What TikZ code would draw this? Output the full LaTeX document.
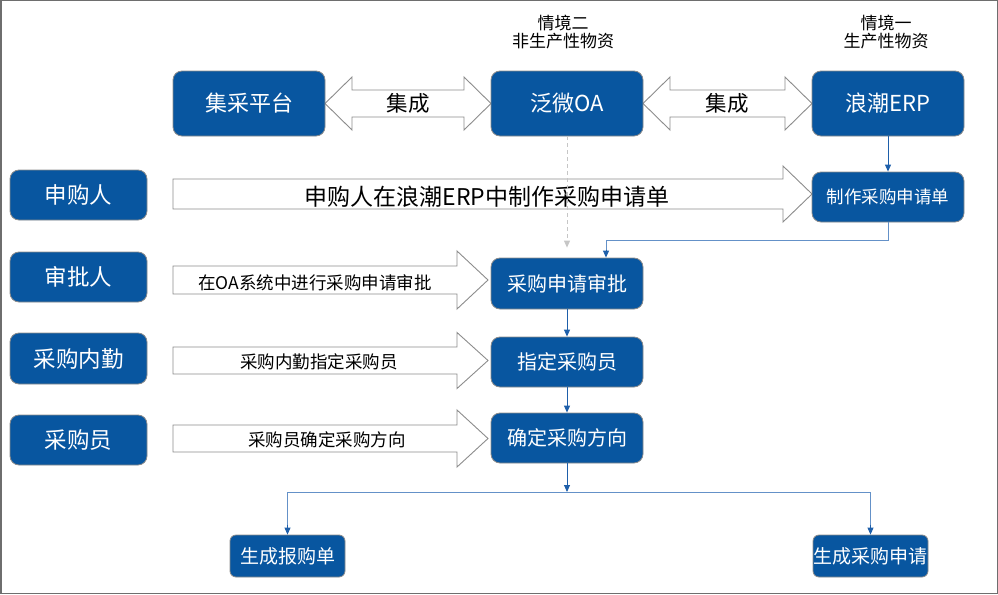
\documentclass[tikz,border=0pt]{standalone}
\usepackage{fontspec}
\setmainfont{Noto Sans CJK SC}
\usetikzlibrary{arrows.meta,calc}
\definecolor{boxblue}{RGB}{8,86,160}
\definecolor{linkblue}{RGB}{30,95,170}
\definecolor{lightlink}{RGB}{100,145,200}
\definecolor{framegray}{RGB}{110,110,110}
\definecolor{outlinegray}{RGB}{140,140,140}
\newcommand\fs[1]{\fontsize{#1}{#1}\selectfont}
% single block arrow: x1 x2 yc halfshaft halfhead headlen
\newcommand\BArrow[6]{%
  \draw[blockshape] (#1,#3-#4) -- (#2-#6,#3-#4) -- (#2-#6,#3-#5) -- (#2,#3)
    -- (#2-#6,#3+#5) -- (#2-#6,#3+#4) -- (#1,#3+#4) -- cycle;}
\newcommand\DArrow[6]{%
  \draw[blockshape] (#1,#3) -- (#1+#6,#3-#5) -- (#1+#6,#3-#4) -- (#2-#6,#3-#4) -- (#2-#6,#3-#5) -- (#2,#3)
    -- (#2-#6,#3+#5) -- (#2-#6,#3+#4) -- (#1+#6,#3+#4) -- (#1+#6,#3+#5) -- cycle;}
\tikzset{
  bluebox/.style={rectangle, rounded corners=9pt, fill=boxblue, draw=outlinegray, line width=0.8pt,
    text=white, inner sep=0pt, align=center},
  blockshape/.style={draw=outlinegray, fill=white, line width=0.9pt, line join=miter},
  conn/.style={draw=linkblue, line width=0.9pt, -{Triangle[length=7pt,width=6pt]}},
  connl/.style={draw=lightlink, line width=0.9pt},
  dashconn/.style={draw=gray!45, line width=0.9pt, dashed, dash pattern=on 4pt off 3pt, -{Triangle[length=7pt,width=6pt,fill=gray!45]}},
  lbl/.style={inner sep=0pt, text=black, align=center},
}
\begin{document}
\begin{tikzpicture}[x=1pt,y=-1pt]
\useasboundingbox (0,0) rectangle (998,594);
\draw[framegray, line width=1.5pt] (0.75,0.75) rectangle (997.25,593.25);

% block arrows
\DArrow{325}{491}{103.5}{13.5}{26.5}{27}
\DArrow{643}{812}{103.5}{13.5}{26.5}{27}
\BArrow{173}{812}{194}{15}{28}{29}
\BArrow{173}{488}{280}{14}{29}{31}
\BArrow{173}{488}{360.5}{13.5}{28}{31}
\BArrow{173}{488}{438.5}{13.5}{28.5}{31}

% top nodes
\node[bluebox, minimum width=152pt, minimum height=65pt, font=\fs{22}] (jc) at (249,103.5) {集采平台};
\node[bluebox, minimum width=152pt, minimum height=65pt, font=\fs{22}] (oa) at (567,103.5) {泛微OA};
\node[bluebox, minimum width=152pt, minimum height=65pt, font=\fs{22}] (erp) at (888,103.5) {浪潮ERP};

\node[lbl, font=\fs{21.5}] (j1) at (408,103) {集成};
\node[lbl, font=\fs{21.5}] (j2) at (727,103) {集成};

\node[lbl, font=\fs{17}, align=center] (s2) at (563,32) {情境二\\[1pt]非生产性物资};
\node[lbl, font=\fs{17}, align=center] (s1) at (886,32) {情境一\\[1pt]生产性物资};

% actors
\node[bluebox, minimum width=137pt, minimum height=50pt, font=\fs{22.5}] (a1) at (78.5,195) {申购人};
\node[bluebox, minimum width=137pt, minimum height=50pt, font=\fs{22.5}] (a2) at (78.5,277) {审批人};
\node[bluebox, minimum width=137pt, minimum height=51pt, font=\fs{22.5}] (a3) at (78.5,358.5) {采购内勤};
\node[bluebox, minimum width=137pt, minimum height=50pt, font=\fs{22.5}] (a4) at (78.5,440) {采购员};

% arrow labels
\node[lbl, font=\fs{23}] (t1) at (487,196.5) {申购人在浪潮ERP中制作采购申请单};
\node[lbl, font=\fs{17.5}] (t2) at (315,283) {在OA系统中进行采购申请审批};
\node[lbl, font=\fs{17.5}] (t3) at (319,362) {采购内勤指定采购员};
\node[lbl, font=\fs{17.5}] (t4) at (327,440) {采购员确定采购方向};

% process nodes
\node[bluebox, minimum width=152pt, minimum height=50pt, font=\fs{17.5}] (zz) at (888,197) {制作采购申请单};
\node[bluebox, minimum width=152pt, minimum height=51pt, font=\fs{20}] (sp) at (567,283.5) {采购申请审批};
\node[bluebox, minimum width=152pt, minimum height=50pt, font=\fs{20}] (zd) at (567,362) {指定采购员};
\node[bluebox, minimum width=152pt, minimum height=50pt, font=\fs{20}] (qd) at (567,438) {确定采购方向};
\node[bluebox, rounded corners=6pt, minimum width=115pt, minimum height=42pt, font=\fs{19}] (bg) at (287.5,556) {生成报购单};
\node[bluebox, rounded corners=6pt, minimum width=115pt, minimum height=42pt, font=\fs{19}] (cg) at (870.5,556) {生成采购申请};

% connectors
\draw[conn] (erp.south) -- (zz.north);
\draw[connl] (zz.south) -- ++(0,18.5) -| ([xshift=39pt,yshift=8pt]sp.north);
\draw[conn] ([xshift=39pt,yshift=8pt]sp.north) -- ([xshift=39pt]sp.north);
\draw[dashconn] (oa.south) -- ([yshift=10pt]sp.north);
\draw[conn] (sp.south) -- (zd.north);
\draw[conn] (zd.south) -- (qd.north);
\coordinate (jn) at (567,492);
\draw[conn] (qd.south) -- (jn);
\draw[connl] (jn) -| ([yshift=10pt]bg.north);
\draw[connl] (jn) -| ([yshift=10pt]cg.north);
\draw[conn] ([yshift=10pt]bg.north) -- (bg.north);
\draw[conn] ([yshift=10pt]cg.north) -- (cg.north);
\end{tikzpicture}
\end{document}
